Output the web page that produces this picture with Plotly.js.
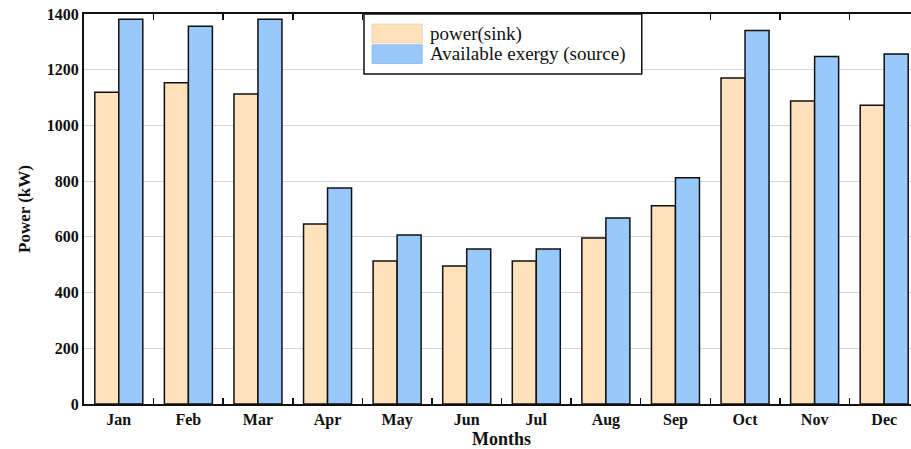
<!DOCTYPE html>
<html>
<head>
<meta charset="utf-8">
<script src="https://cdn.plot.ly/plotly-3.0.1.min.js"></script>
<style>
  html, body { margin: 0; padding: 0; overflow: hidden; background: #fff; }
  #chart { width: 919px; height: 449px; }
</style>
</head>
<body>
<div id="chart"></div>
<script>
// Monthly power demand (sink) vs. available exergy (source), kW
const months = ["Jan", "Feb", "Mar", "Apr", "May", "Jun", "Jul", "Aug", "Sep", "Oct", "Nov", "Dec"];
const powerSink = [1119, 1153, 1113, 646, 513, 495, 513, 596, 712, 1170, 1088, 1072];
const exergySource = [1381, 1356, 1381, 775, 607, 556, 556, 668, 812, 1341, 1247, 1256];
const yTicks = [0, 200, 400, 600, 800, 1000, 1200, 1400];
const seriesNames = ["power(sink)", "Available exergy (source)"];
const seriesColors = ["#FDE2BC", "#99C9FA"];

const serif = "Liberation Serif";
const ink = "#111";

const traces = [
  {
    type: "bar",
    name: seriesNames[0],
    x: months,
    y: powerSink,
    marker: { color: seriesColors[0], line: { color: ink, width: 1.5 } }
  },
  {
    type: "bar",
    name: seriesNames[1],
    x: months,
    y: exergySource,
    marker: { color: seriesColors[1], line: { color: ink, width: 1.5 } }
  }
];

// Legend box drawn with paper-referenced shapes: large colour swatches + labels
const legendBox = { x0: 0.3353, x1: 0.668, y0: 0.846, y1: 1.0 };
const swatchX = [0.345, 0.405];
const swatchY = [[0.974, 0.926], [0.921, 0.873]];

const shapes = [
  {
    type: "rect", xref: "paper", yref: "paper",
    x0: legendBox.x0, x1: legendBox.x1, y0: legendBox.y0, y1: legendBox.y1,
    fillcolor: "#fff", line: { color: ink, width: 1.5 }, layer: "above"
  }
];
const annotations = [];
seriesNames.forEach((name, i) => {
  shapes.push({
    type: "rect", xref: "paper", yref: "paper",
    x0: swatchX[0], x1: swatchX[1], y0: swatchY[i][1], y1: swatchY[i][0],
    fillcolor: seriesColors[i], line: { color: i === 0 ? "#e8c9a0" : "#86b6e6", width: 0.8 },
    layer: "above"
  });
  annotations.push({
    xref: "paper", yref: "paper",
    x: swatchX[1] + 0.007, y: (swatchY[i][0] + swatchY[i][1]) / 2,
    xanchor: "left", yanchor: "middle",
    text: name, showarrow: false,
    font: { family: serif, size: 19, color: ink }
  });
});

const layout = {
  width: 919,
  height: 449,
  margin: { l: 84, r: 0, t: 14, b: 45 },
  paper_bgcolor: "#fff",
  plot_bgcolor: "#fff",
  barmode: "group",
  bargap: 0.31,
  bargroupgap: 0,
  font: { family: serif, color: ink },
  showlegend: false,
  shapes: shapes,
  annotations: annotations,
  xaxis: {
    type: "category",
    categoryarray: months,
    tickson: "boundaries",
    ticks: "inside",
    ticklen: 6,
    tickwidth: 1.5,
    tickcolor: ink,
    showline: true,
    linecolor: ink,
    linewidth: 2,
    mirror: "ticks",
    showgrid: false,
    tickfont: { family: serif, size: 16, color: ink, weight: "bold" },
    title: { text: "<b>Months</b>", font: { family: serif, size: 18, color: ink }, standoff: 4 }
  },
  yaxis: {
    range: [0, 1400],
    tickvals: yTicks,
    ticktext: yTicks.map(String),
    ticks: "",
    showline: true,
    linecolor: ink,
    linewidth: 2,
    mirror: true,
    showgrid: true,
    gridcolor: "#d4d4d4",
    gridwidth: 1,
    zeroline: false,
    tickfont: { family: serif, size: 16, color: ink, weight: "bold" },
    title: { text: "<b>Power (kW)</b>", font: { family: serif, size: 17, color: ink }, standoff: 12 }
  }
};

Plotly.newPlot("chart", traces, layout, { displayModeBar: false, staticPlot: true });
</script>
</body>
</html>
